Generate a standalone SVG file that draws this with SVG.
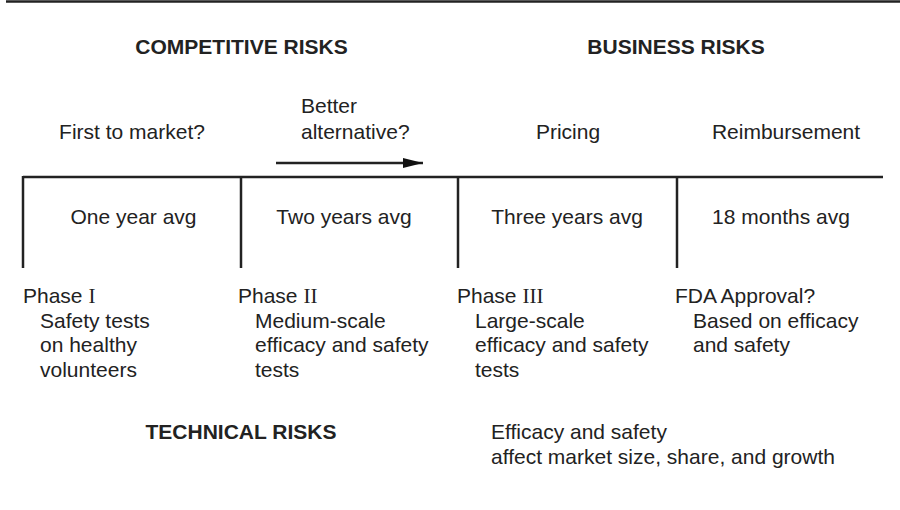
<svg xmlns="http://www.w3.org/2000/svg" width="900" height="510" viewBox="0 0 900 510">
<style>
text{font-family:"Liberation Sans",Arial,Helvetica,sans-serif;font-size:21px;fill:#222}
.h{font-weight:bold}
.m{text-anchor:middle}
.r{font-family:"Liberation Serif","Times New Roman",serif}
.ln{stroke:#222;stroke-width:2.5;fill:none}
</style>
<defs>
<marker id="ah2" viewBox="0 0 20 10" refX="20" refY="5" markerWidth="20" markerHeight="10" markerUnits="userSpaceOnUse" orient="auto">
<path d="M0,0 L20,5 L0,10 Z" fill="#111"/>
</marker>
</defs>
<rect width="900" height="510" fill="#fff"/>
<g id="connectors">
<line class="ln" x1="6" y1="1.5" x2="900" y2="1.5"/>
<line class="ln" x1="23" y1="177" x2="883" y2="177"/>
<line class="ln" x1="23" y1="176" x2="23" y2="268"/>
<line class="ln" x1="241" y1="176" x2="241" y2="268"/>
<line class="ln" x1="458" y1="176" x2="458" y2="268"/>
<line class="ln" x1="677" y1="176" x2="677" y2="268"/>
<line class="ln" x1="276" y1="163" x2="423" y2="163" stroke="#111" marker-end="url(#ah2)"/>
</g>
<g id="headers">
<text class="h m" x="241.5" y="54">COMPETITIVE RISKS</text>
<text class="h m" x="676" y="54">BUSINESS RISKS</text>
<text class="h m" x="241" y="439">TECHNICAL RISKS</text>
</g>
<g id="risks-top">
<text class="m" x="132" y="139">First to market?</text>
<text x="301" y="113">Better</text>
<text x="301" y="139">alternative?</text>
<text class="m" x="568" y="139">Pricing</text>
<text class="m" x="786" y="139">Reimbursement</text>
</g>
<g id="durations">
<text class="m" x="133.5" y="224">One year avg</text>
<text class="m" x="344" y="224">Two years avg</text>
<text class="m" x="567" y="224">Three years avg</text>
<text class="m" x="781" y="224">18 months avg</text>
</g>
<g id="phase1">
<text x="23" y="303">Phase <tspan class="r">I</tspan></text>
<text x="40" y="328">Safety tests</text>
<text x="40" y="352">on healthy</text>
<text x="40" y="377">volunteers</text>
</g>
<g id="phase2">
<text x="238" y="303">Phase <tspan class="r">II</tspan></text>
<text x="255" y="328">Medium-scale</text>
<text x="255" y="352">efficacy and safety</text>
<text x="255" y="377">tests</text>
</g>
<g id="phase3">
<text x="457" y="303">Phase <tspan class="r">III</tspan></text>
<text x="475" y="328">Large-scale</text>
<text x="475" y="352">efficacy and safety</text>
<text x="475" y="377">tests</text>
</g>
<g id="fda">
<text x="675" y="303">FDA Approval?</text>
<text x="693" y="328">Based on efficacy</text>
<text x="693" y="352">and safety</text>
</g>
<g id="business-note">
<text x="491" y="439">Efficacy and safety</text>
<text x="491" y="464">affect market size, share, and growth</text>
</g>
</svg>
